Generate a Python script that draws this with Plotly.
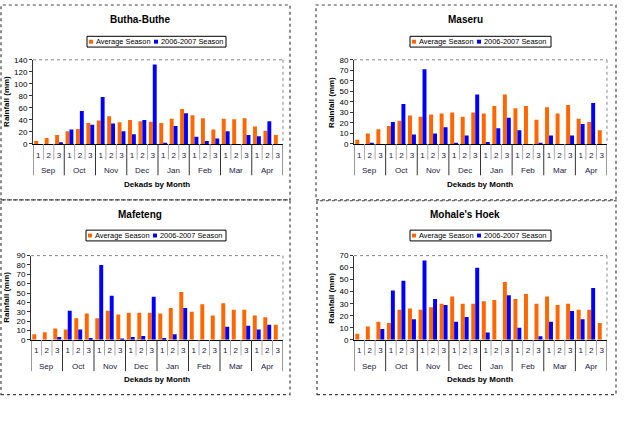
import plotly.graph_objects as go

months = ["Sep", "Oct", "Nov", "Dec", "Jan", "Feb", "Mar", "Apr"]
dekads = ["1", "2", "3"]

stations = ["Butha-Buthe", "Maseru", "Mafeteng", "Mohale's Hoek"]
series_names = ["Average Season", "2006-2007 Season"]

butha_avg = [5, 10, 15, 21, 25, 35, 39, 46, 36, 40, 38, 37, 35, 42, 58, 48, 43, 24, 42, 41, 43, 29, 22, 15]
butha_0607 = [0, 0, 3, 24, 55, 32, 78, 34, 21, 16, 40, 132, 2, 30, 51, 12, 5, 9, 21, 0, 15, 13, 38, 0]

maseru_avg = [4, 10, 14, 17, 22, 27, 26, 28, 29, 30, 26, 30, 29, 36, 47, 34, 36, 23, 35, 29, 37, 24, 21, 13]
maseru_0607 = [0, 1, 0, 21, 38, 9, 71, 10, 16, 1, 8, 47, 2, 15, 25, 13, 0, 1, 8, 0, 8, 19, 39, 0]

mafeteng_avg = [6, 8, 12, 11, 23, 28, 23, 31, 27, 29, 29, 29, 28, 34, 51, 30, 38, 26, 39, 32, 32, 26, 24, 16]
mafeteng_0607 = [0, 0, 3, 31, 11, 2, 80, 47, 1, 3, 4, 46, 2, 6, 34, 0, 0, 0, 14, 0, 15, 11, 16, 0]

mohale_avg = [5, 11, 15, 14, 25, 26, 25, 27, 30, 36, 30, 30, 32, 33, 48, 34, 38, 30, 36, 29, 30, 25, 25, 14]
mohale_0607 = [0, 0, 9, 41, 49, 17, 66, 34, 29, 15, 19, 60, 6, 0, 37, 10, 0, 3, 15, 0, 24, 17, 43, 0]

y_max = [140, 80, 90, 70]
y_step = [20, 10, 10, 10]

series = [(butha_avg, butha_0607), (maseru_avg, maseru_0607),
          (mafeteng_avg, mafeteng_0607), (mohale_avg, mohale_0607)]

W, H = 642, 428
FONT = "Liberation Sans, Arial, sans-serif"
ORANGE = "#FF6600"
BLUE = "#0000FF"
COLORS = [ORANGE, BLUE]

cats = [m + " " + d for m in months for d in dekads]
cat_text = [d for _ in months for d in dekads]

# pixel layout per panel
panels = [
    dict(px0=33, px1=283, pt=57, pb=143, box=(1, 1, 290, 200), title=(140, 16),
         leg=(87, 33, 226, 44), ytitle=(7, 100), xtitle=(157, 184)),
    dict(px0=354, px1=607, pt=57, pb=143, box=(316, 1, 616, 200), title=(465, 16),
         leg=(410, 33, 551, 44), ytitle=(332, 100), xtitle=(480, 184)),
    dict(px0=31, px1=283, pt=257, pb=343, box=(1, 200, 290, 399), title=(140, 215),
         leg=(86, 231, 226, 242), ytitle=(7, 300), xtitle=(157, 384)),
    dict(px0=354, px1=607, pt=257, pb=343, box=(317, 201, 616, 399), title=(465, 215),
         leg=(410, 231, 551, 242), ytitle=(332, 300), xtitle=(480, 384)),
]


def px(x):
    return x / W


def py(y):
    return 1 - y / H


fig = go.Figure()
shapes = []
annotations = []
layout_extra = {}
nd = len(dekads)

for i, (name, (avg, cur), p) in enumerate(zip(stations, series, panels)):
    n = "" if i == 0 else str(i + 1)
    xa = "x" + n
    ya = "y" + n
    for vals, sname, col in zip((avg, cur), series_names, COLORS):
        fig.add_trace(go.Bar(x=cats, y=vals, name=sname, marker_color=col,
                             marker_line_width=0, xaxis=xa, yaxis=ya, showlegend=False))
    layout_extra["xaxis" + n] = dict(
        type="category", categoryorder="array", categoryarray=cats,
        domain=[px(p["px0"]), px(p["px1"])], anchor=ya,
        range=[-0.5, len(cats) - 0.5],
        showline=True, linecolor="black", linewidth=1,
        tickmode="array", tickvals=cats, ticktext=cat_text, tickangle=0,
        ticks="", ticklabelstandoff=3,
        tickfont=dict(family=FONT, size=8, color="#222244"),
        showgrid=False, zeroline=False, fixedrange=True,
    )
    layout_extra["yaxis" + n] = dict(
        domain=[py(p["pb"]), py(p["pt"])], anchor=xa,
        range=[0, y_max[i]], dtick=y_step[i], tick0=0,
        showline=True, linecolor="#333333", linewidth=1,
        ticks="outside", ticklen=3, tickcolor="#333333",
        tickfont=dict(family=FONT, size=8, color="black"),
        showgrid=False, zeroline=False, fixedrange=True,
    )
    # separators below the category axis
    for k in range(len(cats) + 1):
        b = k - 0.5
        is_month = (k % nd == 0)
        shapes.append(dict(type="line", xref=xa, yref="paper", x0=b, x1=b,
                           y0=py(p["pb"]), y1=py(p["pb"] + (32 if is_month else 16)),
                           line=dict(color="#333333" if is_month else "#AAAAAA", width=1)))
    # month labels
    for mi, m in enumerate(months):
        annotations.append(dict(text=m, x=cats[mi * nd + nd // 2], xref=xa,
                                y=py(p["pb"] + 27), yref="paper", showarrow=False,
                                font=dict(family=FONT, size=8, color="#222244"),
                                xanchor="center", yanchor="middle"))
    # plot area dotted top/right border
    shapes.append(dict(type="line", xref="paper", yref="paper",
                       x0=px(p["px0"]), x1=px(p["px1"]), y0=py(p["pt"]), y1=py(p["pt"]),
                       line=dict(color="#888888", width=1, dash="dot")))
    shapes.append(dict(type="line", xref="paper", yref="paper",
                       x0=px(p["px1"]), x1=px(p["px1"]), y0=py(p["pt"]), y1=py(p["pb"]),
                       line=dict(color="#888888", width=1, dash="dot")))
    # chart box
    bx0, by0, bx1, by1 = p["box"]
    shapes.append(dict(type="rect", xref="paper", yref="paper",
                       x0=px(bx0), x1=px(bx1), y0=py(by1), y1=py(by0),
                       line=dict(color="#444444", width=1.2, dash="dot")))
    # legend box
    lx0, ly0, lx1, ly1 = p["leg"]
    lyc = (ly0 + ly1) / 2
    shapes.append(dict(type="rect", xref="paper", yref="paper",
                       x0=px(lx0), x1=px(lx1), y0=py(ly1), y1=py(ly0),
                       line=dict(color="black", width=1), fillcolor="white", layer="below"))
    for off, sname, col in zip((2, 67), series_names, COLORS):
        shapes.append(dict(type="rect", xref="paper", yref="paper",
                           x0=px(lx0 + off), x1=px(lx0 + off + 4),
                           y0=py(lyc + 2), y1=py(lyc - 2),
                           line=dict(width=0), fillcolor=col))
        annotations.append(dict(text=sname, x=px(lx0 + off + 5), y=py(lyc),
                                xref="paper", yref="paper", showarrow=False,
                                font=dict(family=FONT, size=7.4, color="black"),
                                xanchor="left", yanchor="middle"))
    annotations.append(dict(text="<b>%s</b>" % name, x=px(p["title"][0]), y=py(p["title"][1]),
                            xref="paper", yref="paper", showarrow=False,
                            font=dict(family=FONT, size=10, color="black"),
                            xanchor="center", yanchor="middle"))
    annotations.append(dict(text="<b>Rainfall (mm)</b>", x=px(p["ytitle"][0]), y=py(p["ytitle"][1]),
                            xref="paper", yref="paper", showarrow=False, textangle=-90,
                            font=dict(family=FONT, size=8, color="black"),
                            xanchor="center", yanchor="middle"))
    annotations.append(dict(text="<b>Dekads by Month</b>", x=px(p["xtitle"][0]), y=py(p["xtitle"][1]),
                            xref="paper", yref="paper", showarrow=False,
                            font=dict(family=FONT, size=8, color="black"),
                            xanchor="center", yanchor="middle"))

fig.update_layout(
    width=W, height=H, margin=dict(l=0, r=0, t=0, b=0),
    paper_bgcolor="white", plot_bgcolor="white",
    barmode="group", bargap=0.25, bargroupgap=0.0,
    shapes=shapes, annotations=annotations, showlegend=False,
    font=dict(family=FONT),
    **layout_extra,
)

fig.write_html("out.html", config={"displayModeBar": False},
               post_script="document.body.style.margin='0';document.body.style.padding='0';")
